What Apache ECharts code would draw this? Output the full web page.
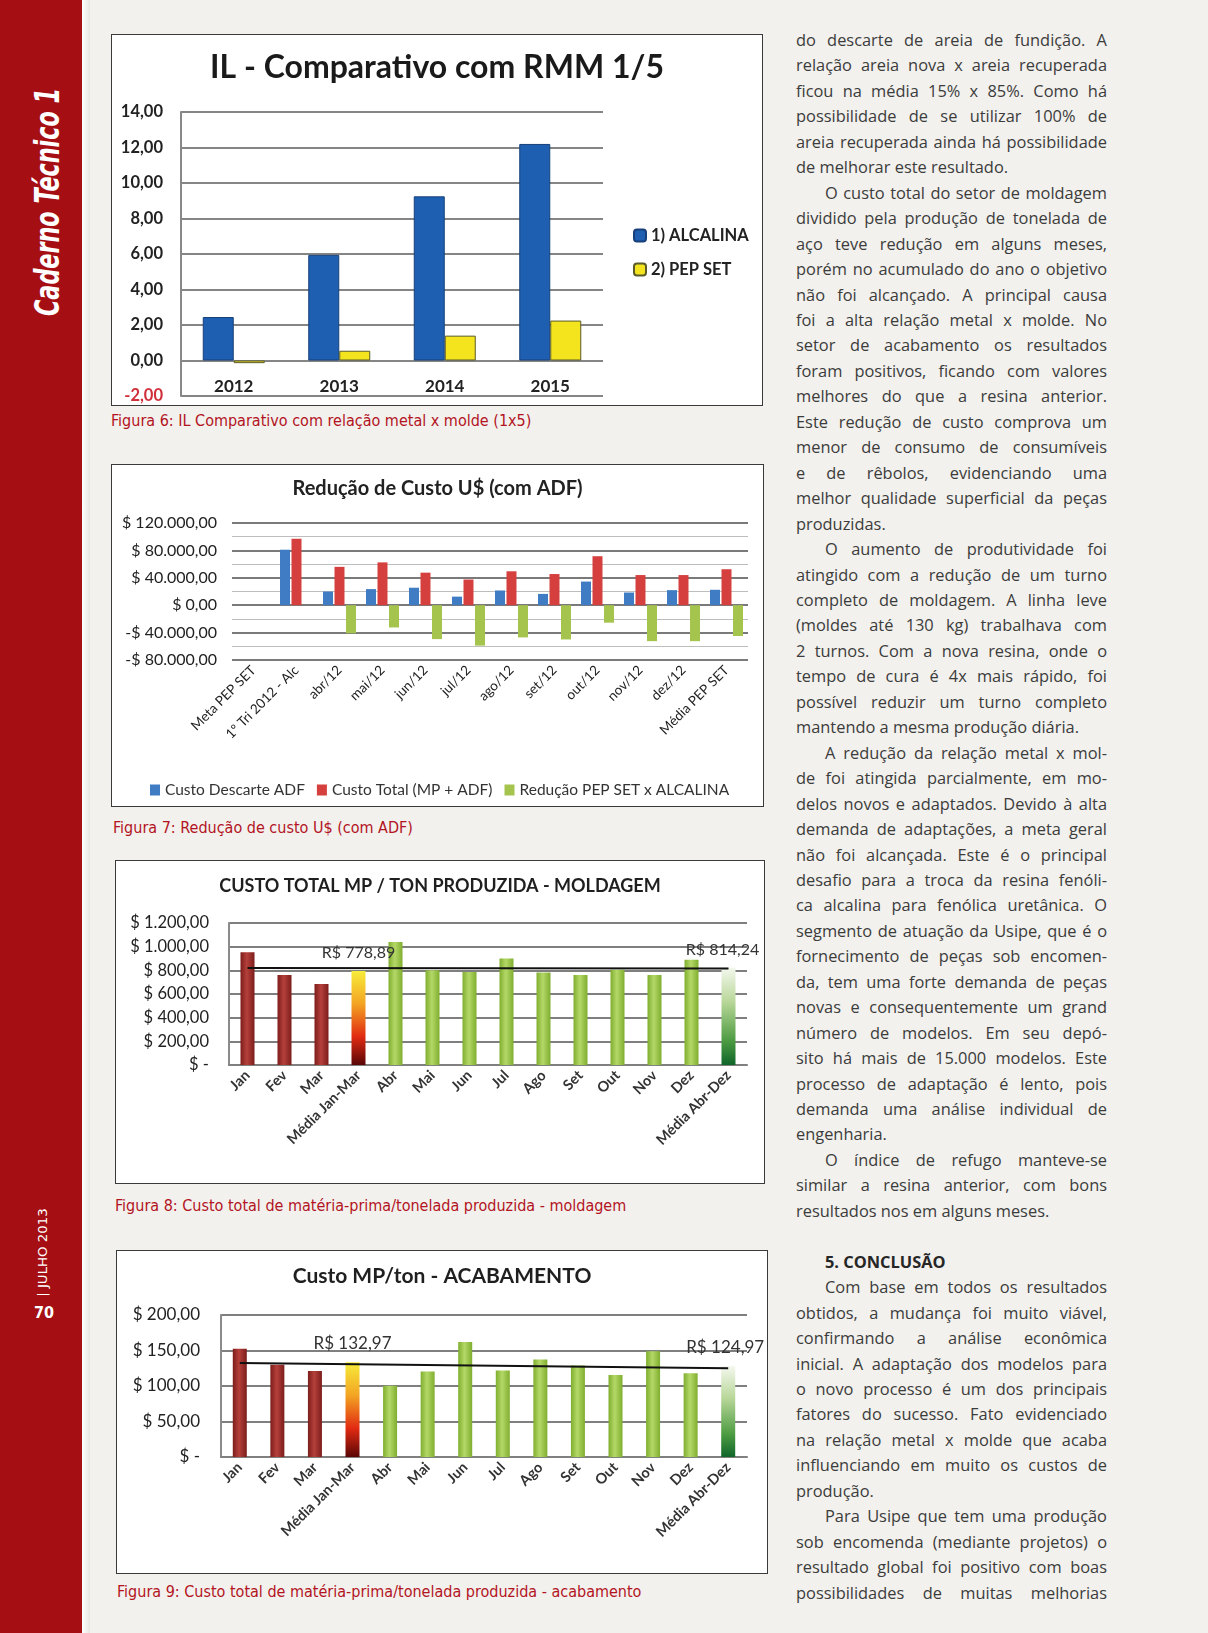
<!DOCTYPE html>
<html>
<head>
<meta charset="utf-8">
<script src="https://cdn.jsdelivr.net/npm/echarts@6/dist/echarts.min.js"></script>
<style>
  html, body { margin:0; padding:0; }
  body { width:1208px; height:1633px; background:#f2f1ed; position:relative; overflow:hidden; font-family:"Open Sans", sans-serif; }
  #side { position:absolute; left:0; top:0; width:82px; height:1633px; background:#a50f14; }
  #sideShadow { position:absolute; left:82px; top:0; width:8px; height:1633px; background:linear-gradient(90deg,#ffffff,#e6e5e1); }
  .rot { position:absolute; color:#fff; white-space:nowrap; transform-origin:center center; }
  #caderno { font-family:"Liberation Sans Narrow","DejaVu Sans Condensed",sans-serif; font-weight:bold; font-style:italic; font-size:34px; }
  #julho { font-family:"Liberation Sans Narrow","DejaVu Sans Condensed",sans-serif; font-size:13px; }
  #pg { position:absolute; left:34px; top:1303px; color:#fff; font-family:"Liberation Sans Narrow","DejaVu Sans Condensed",sans-serif; font-weight:bold; font-size:16px; }
  .box { position:absolute; background:#fff; border:1px solid #3a3a3a; box-sizing:border-box; }
  .box > div { position:absolute; left:0; top:0; width:100%; height:100%; }
  .cap { position:absolute; color:#b3141f; font-family:"Liberation Sans Narrow","DejaVu Sans Condensed",sans-serif; font-size:16px; white-space:nowrap; line-height:20px; }
  #col { position:absolute; left:796px; top:27px; width:311px; color:#3c3c3c; font-size:16.4px; }
  #col .l { height:25.46px; line-height:25.46px; text-align:justify; text-align-last:justify; white-space:nowrap; overflow:visible; }
  #col .e { text-align-last:left; }
  #col .i { padding-left:29px; }
  #col .h { font-weight:bold; color:#262626; text-align-last:left; padding-left:29px; }
</style>
</head>
<body>
<div id="side"></div>
<div id="sideShadow"></div>
<div id="caderno" class="rot">Caderno Técnico 1</div>
<div id="julho" class="rot">| JULHO 2013</div>
<div id="pg">70</div>

<div class="box" style="left:111px;top:34px;width:652px;height:372px;"><div id="c1"></div></div>
<div class="cap" style="left:111px;top:411px;">Figura 6: IL Comparativo com relação metal x molde (1x5)</div>

<div class="box" style="left:111px;top:464px;width:653px;height:343px;"><div id="c2"></div></div>
<div class="cap" style="left:113px;top:818px;">Figura 7: Redução de custo U$ (com ADF)</div>

<div class="box" style="left:115px;top:860px;width:650px;height:324px;"><div id="c3"></div></div>
<div class="cap" style="left:115px;top:1196px;">Figura 8: Custo total de matéria-prima/tonelada produzida - moldagem</div>

<div class="box" style="left:116px;top:1250px;width:652px;height:324px;"><div id="c4"></div></div>
<div class="cap" style="left:117px;top:1582px;">Figura 9: Custo total de matéria-prima/tonelada produzida - acabamento</div>

<div id="col">
<div class="l">do descarte de areia de fundição. A</div>
<div class="l">relação areia nova x areia recuperada</div>
<div class="l">ficou na média 15% x 85%. Como há</div>
<div class="l">possibilidade de se utilizar 100% de</div>
<div class="l">areia recuperada ainda há possibilidade</div>
<div class="l e">de melhorar este resultado.</div>
<div class="l i">O custo total do setor de moldagem</div>
<div class="l">dividido pela produção de tonelada de</div>
<div class="l">aço teve redução em alguns meses,</div>
<div class="l">porém no acumulado do ano o objetivo</div>
<div class="l">não foi alcançado. A principal causa</div>
<div class="l">foi a alta relação metal x molde. No</div>
<div class="l">setor de acabamento os resultados</div>
<div class="l">foram positivos, ficando com valores</div>
<div class="l">melhores do que a resina anterior.</div>
<div class="l">Este redução de custo comprova um</div>
<div class="l">menor de consumo de consumíveis</div>
<div class="l">e de rêbolos, evidenciando uma</div>
<div class="l">melhor qualidade superficial da peças</div>
<div class="l e">produzidas.</div>
<div class="l i">O aumento de produtividade foi</div>
<div class="l">atingido com a redução de um turno</div>
<div class="l">completo de moldagem. A linha leve</div>
<div class="l">(moldes até 130 kg) trabalhava com</div>
<div class="l">2 turnos. Com a nova resina, onde o</div>
<div class="l">tempo de cura é 4x mais rápido, foi</div>
<div class="l">possível reduzir um turno completo</div>
<div class="l e">mantendo a mesma produção diária.</div>
<div class="l i">A redução da relação metal x mol-</div>
<div class="l">de foi atingida parcialmente, em mo-</div>
<div class="l">delos novos e adaptados. Devido à alta</div>
<div class="l">demanda de adaptações, a meta geral</div>
<div class="l">não foi alcançada. Este é o principal</div>
<div class="l">desafio para a troca da resina fenóli-</div>
<div class="l">ca alcalina para fenólica uretânica. O</div>
<div class="l">segmento de atuação da Usipe, que é o</div>
<div class="l">fornecimento de peças sob encomen-</div>
<div class="l">da, tem uma forte demanda de peças</div>
<div class="l">novas e consequentemente um grand</div>
<div class="l">número de modelos. Em seu depó-</div>
<div class="l">sito há mais de 15.000 modelos. Este</div>
<div class="l">processo de adaptação é lento, pois</div>
<div class="l">demanda uma análise individual de</div>
<div class="l e">engenharia.</div>
<div class="l i">O índice de refugo manteve-se</div>
<div class="l">similar a resina anterior, com bons</div>
<div class="l e">resultados nos em alguns meses.</div>
<div class="l e">&nbsp;</div>
<div class="l h">5. CONCLUSÃO</div>
<div class="l i">Com base em todos os resultados</div>
<div class="l">obtidos, a mudança foi muito viável,</div>
<div class="l">confirmando a análise econômica</div>
<div class="l">inicial. A adaptação dos modelos para</div>
<div class="l">o novo processo é um dos principais</div>
<div class="l">fatores do sucesso. Fato evidenciado</div>
<div class="l">na relação metal x molde que acaba</div>
<div class="l">influenciando em muito os custos de</div>
<div class="l e">produção.</div>
<div class="l i">Para Usipe que tem uma produção</div>
<div class="l">sob encomenda (mediante projetos) o</div>
<div class="l">resultado global foi positivo com boas</div>
<div class="l">possibilidades de muitas melhorias</div>
</div>

<script>
// ---------- DATA ----------
// Figura 6
const ilYears = ['2012', '2013', '2014', '2015'];
const ilAlcalina = [2.45, 5.95, 9.25, 12.2];
const ilPepSet = [-0.15, 0.55, 1.4, 2.25];

// Figura 7
const rcCategories = ['Meta PEP SET', '1º Tri 2012 - Alc', 'abr/12', 'mai/12', 'jun/12', 'jul/12', 'ago/12', 'set/12', 'out/12', 'nov/12', 'dez/12', 'Média PEP SET'];
const rcDescarte = [null, 81000, 20000, 23500, 25500, 12500, 21500, 16500, 34500, 18500, 22000, 22500];
const rcTotal = [null, 97000, 56000, 62500, 47500, 37500, 49500, 45500, 71500, 44000, 44000, 52500];
const rcReducao = [null, null, -41000, -32500, -49500, -59000, -47000, -50000, -25500, -52500, -52500, -45000];

// Figura 8 / 9
const months = ['Jan', 'Fev', 'Mar', 'Média Jan-Mar', 'Abr', 'Mai', 'Jun', 'Jul', 'Ago', 'Set', 'Out', 'Nov', 'Dez', 'Média Abr-Dez'];
const moldCost = [952, 760, 684, 795, 1040, 800, 786, 900, 781, 760, 805, 760, 890, 825];
const moldLineEnds = [820, 815];
const moldAvgLabels = ['R$ 778,89', 'R$ 814,24'];
const acabCost = [152.5, 130, 121, 133.5, 100.5, 120.5, 162, 122, 137.5, 129, 115.5, 149, 118, 128];
const acabLineEnds = [132.5, 125];
const acabAvgLabels = ['R$ 132,97', 'R$ 124,97'];

// ---------- helpers ----------
function brNum(v, d) {
  const s = Math.abs(v).toFixed(d);
  let parts = s.split('.');
  let i = parts[0].replace(/\B(?=(\d{3})+(?!\d))/g, '.');
  return i + (parts[1] ? ',' + parts[1] : '');
}
const FONT = 'Lato, "Open Sans", sans-serif';
const G = echarts.graphic.LinearGradient;

// Sidebar text placement
(function () {
  const c = document.getElementById('caderno');
  const w = c.offsetWidth, h = c.offsetHeight;
  const sx = 228 / w;
  c.style.left = (47 - w / 2) + 'px';
  c.style.top = (202 - h / 2) + 'px';
  c.style.transform = 'rotate(-90deg) scale(' + sx + ',1)';
  const j = document.getElementById('julho');
  const w2 = j.offsetWidth, h2 = j.offsetHeight;
  j.style.left = (43 - w2 / 2) + 'px';
  j.style.top = (1252 - h2 / 2) + 'px';
  j.style.transform = 'rotate(-90deg) scale(' + (89 / w2) + ',1)';
})();

// ---------- Chart 1 ----------
const c1Grid = { left: 69, right: 159, top: 77, bottom: 9 };
const c1 = echarts.init(document.getElementById('c1'));
const c1PlotH = 372 - 2 - c1Grid.top - c1Grid.bottom;
c1.setOption({
  animation: false,
  textStyle: { fontFamily: FONT },
  title: { text: 'IL - Comparativo com RMM 1/5', left: 'center', top: 12,
    textStyle: { fontFamily: FONT, fontSize: 32, fontWeight: 'bold', color: '#1a1a1a' } },
  legend: { orient: 'vertical', left: 516, top: 187, itemWidth: 12, itemHeight: 12, itemGap: 17,
    textStyle: { fontFamily: FONT, fontSize: 16.5, fontWeight: 'bold', color: '#222' } },
  grid: Object.assign({ outerBoundsMode: 'none', containLabel: false }, c1Grid),
  xAxis: { type: 'category', data: ilYears,
    offset: -c1PlotH * 2 / 16,
    axisLine: { show: false, onZero: false },
    axisTick: { show: false },
    axisLabel: { margin: 18, fontSize: 17, fontWeight: 'bold', color: '#222', fontFamily: FONT } },
  yAxis: { type: 'value', min: -2, max: 14, interval: 2,
    axisLine: { show: true, lineStyle: { color: '#888', width: 2 } },
    axisTick: { show: false },
    splitLine: { lineStyle: { color: '#858585', width: 2 } },
    axisLabel: { margin: 18, fontSize: 16.5, fontWeight: 'bold', fontFamily: FONT,
      color: function (v) { return Number(v) < 0 ? '#d0303a' : '#222'; },
      formatter: function (v) { return (v < 0 ? '-' : '') + brNum(v, 2); } } },
  series: [
    { name: '1) ALCALINA', type: 'bar', data: ilAlcalina, barWidth: 31, barGap: '0%',
      itemStyle: { color: '#1f5fb2', borderColor: '#17407a', borderWidth: 1 } },
    { name: '2) PEP SET', type: 'bar', data: ilPepSet, barWidth: 31,
      itemStyle: { color: '#f4e41e', borderColor: '#5a5a2a', borderWidth: 1 } }
  ]
});

// ---------- Chart 2 ----------
const c2 = echarts.init(document.getElementById('c2'));
c2.setOption({
  animation: false,
  textStyle: { fontFamily: FONT },
  title: { text: 'Redução de Custo U$ (com ADF)', left: 'center', top: 9,
    textStyle: { fontFamily: FONT, fontSize: 20, fontWeight: 'bold', color: '#222' } },
  legend: { left: 33, top: 312, itemWidth: 10, itemHeight: 11, itemGap: 12, icon: 'rect',
    textStyle: { fontFamily: FONT, fontSize: 15.5, color: '#333' } },
  grid: { left: 120, right: 15, top: 58, bottom: 146, outerBoundsMode: 'none', containLabel: false },
  xAxis: { type: 'category', data: rcCategories,
    axisLine: { show: false, onZero: false }, axisTick: { show: false },
    axisLabel: { interval: 0, rotate: 45, margin: 8, fontSize: 13.5, color: '#222', fontFamily: FONT } },
  yAxis: { type: 'value', min: -80000, max: 120000, interval: 40000,
    axisLine: { show: false }, axisTick: { show: false },
    splitLine: { lineStyle: { color: '#7a7a7a', width: 2 } },
    minorTick: { show: false, splitNumber: 2 },
    minorSplitLine: { show: true, lineStyle: { color: '#bdbdbd', width: 1 } },
    axisLabel: { margin: 15, fontSize: 16, color: '#222', fontFamily: FONT,
      formatter: function (v) { return (v < 0 ? '-$ ' : '$ ') + brNum(v, 2); } } },
  series: [
    { name: 'Custo Descarte ADF', type: 'bar', data: rcDescarte, barWidth: 10, barGap: '15%',
      itemStyle: { color: '#3f7cc4' } },
    { name: 'Custo Total (MP + ADF)', type: 'bar', data: rcTotal, barWidth: 10,
      itemStyle: { color: '#d5403f' } },
    { name: 'Redução PEP SET x ALCALINA', type: 'bar', data: rcReducao, barWidth: 10,
      itemStyle: { color: '#a5c44e' } }
  ]
});

// ---------- Chart 3 & 4 (shared builder) ----------
const redCyl = new G(0, 0, 1, 0, [{ offset: 0, color: '#7c1d1b' }, { offset: 0.45, color: '#b5403b' }, { offset: 1, color: '#7c1d1b' }]);
const greenCyl = new G(0, 0, 1, 0, [{ offset: 0, color: '#7fae2e' }, { offset: 0.45, color: '#b4d868' }, { offset: 1, color: '#7fae2e' }]);
const avgA = new G(0, 0, 0, 1, [{ offset: 0, color: '#f7ec3a' }, { offset: 0.35, color: '#f3a423' }, { offset: 0.7, color: '#e12a12' }, { offset: 1, color: '#5a0606' }]);
const avgB = new G(0, 0, 0, 1, [{ offset: 0, color: '#f4f8ee' }, { offset: 0.35, color: '#b9d79a' }, { offset: 0.75, color: '#4d9c42' }, { offset: 1, color: '#10652a' }]);

function costChart(el, opt) {
  const n = opt.values.length;
  const barData = opt.values.map(function (v, i) {
    let color = greenCyl;
    if (i < 3) color = redCyl;
    else if (i === 3) color = avgA;
    else if (i === n - 1) color = avgB;
    const item = { value: v, itemStyle: { color: color } };
    if (i === 3 || i === n - 1) {
      item.label = { show: true, position: 'top', distance: 10, fontSize: opt.avgSize, color: '#333', fontFamily: FONT,
        offset: i === 3 ? [0, 0] : [opt.lastLabelShift, 0],
        formatter: opt.avgLabels[i === 3 ? 0 : 1] };
    }
    return item;
  });
  const lineData = opt.values.map(function (v, i) {
    if (i === 0) return opt.lineEnds[0];
    if (i === n - 1) return opt.lineEnds[1];
    return null;
  });
  const ch = echarts.init(document.getElementById(el));
  ch.setOption({
    animation: false,
    textStyle: { fontFamily: FONT },
    title: { text: opt.title, left: 'center', top: opt.titleTop,
      textStyle: { fontFamily: FONT, fontSize: opt.titleSize, fontWeight: 'bold', color: '#1f1f1f' } },
    grid: Object.assign({ outerBoundsMode: 'none', containLabel: false }, opt.grid),
    xAxis: { type: 'category', data: months,
      axisLine: { lineStyle: { color: '#808080', width: 2 } }, axisTick: { show: false },
      axisLabel: { interval: 0, rotate: 45, margin: 8, fontSize: 14.5, fontWeight: 'bold', color: '#333', fontFamily: FONT } },
    yAxis: { type: 'value', min: 0, max: opt.max, interval: opt.interval,
      axisLine: { show: true, lineStyle: { color: '#8a8a8a', width: 2 } }, axisTick: { show: false },
      splitLine: { lineStyle: { color: '#7f7f7f', width: 2 } },
      axisLabel: { margin: opt.labelMargin, fontSize: opt.labelSize, color: '#222', fontFamily: FONT,
        formatter: function (v) { return v === 0 ? '$ -' : '$ ' + brNum(v, 2); } } },
    series: [
      { type: 'bar', data: barData, barWidth: 14, z: 2 },
      { type: 'line', data: lineData, connectNulls: true, showSymbol: false, symbol: 'none', z: 5,
        lineStyle: { color: '#111', width: 2 } }
    ]
  });
}

costChart('c3', { title: 'CUSTO TOTAL MP / TON PRODUZIDA - MOLDAGEM', titleTop: 11, titleSize: 18,
  grid: { left: 113, right: 17, top: 62, bottom: 118 }, values: moldCost, lineEnds: moldLineEnds,
  avgLabels: moldAvgLabels, avgSize: 16, lastLabelShift: -6, max: 1200, interval: 200, labelMargin: 20, labelSize: 16.5 });

costChart('c4', { title: 'Custo MP/ton - ACABAMENTO', titleTop: 10, titleSize: 21,
  grid: { left: 104, right: 20, top: 64, bottom: 116 }, values: acabCost, lineEnds: acabLineEnds,
  avgLabels: acabAvgLabels, avgSize: 17, lastLabelShift: -3, max: 200, interval: 50, labelMargin: 21, labelSize: 17 });
</script>
</body>
</html>
